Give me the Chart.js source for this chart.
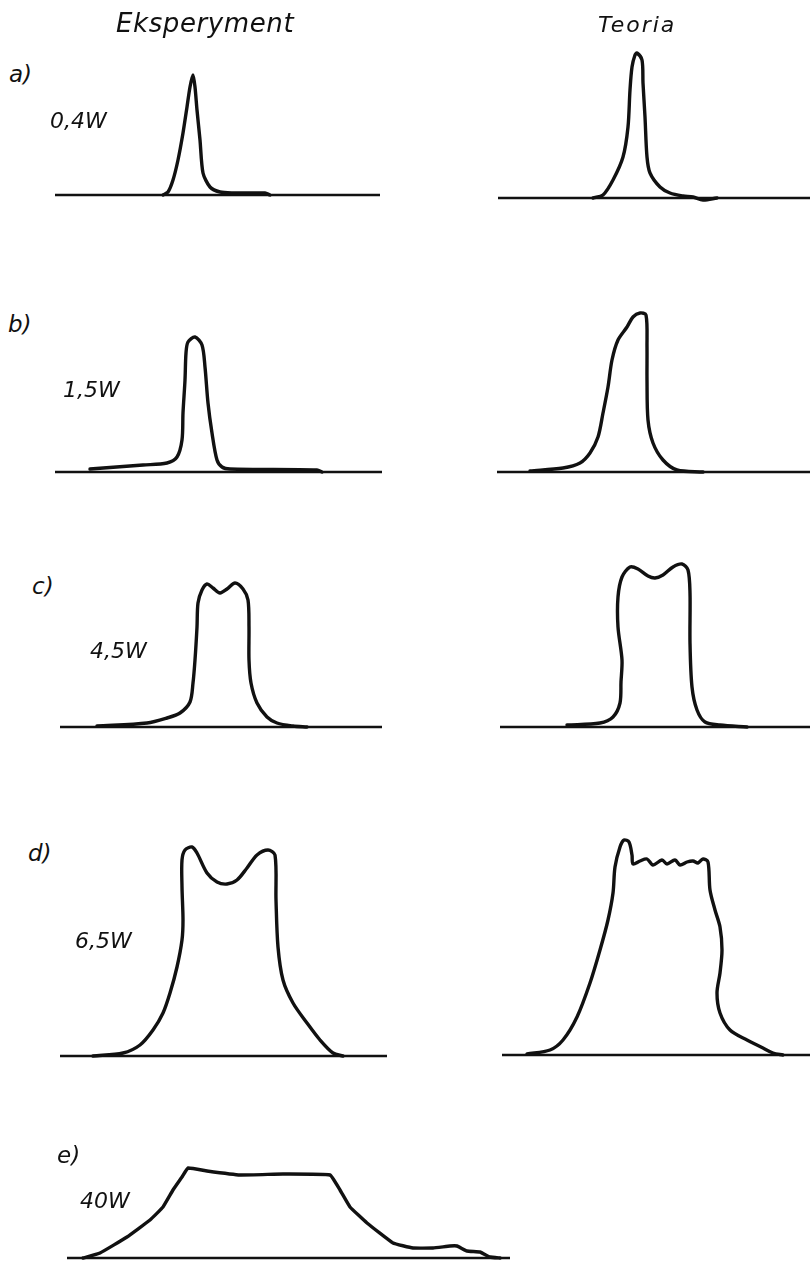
<!DOCTYPE html>
<html>
<head>
<meta charset="utf-8">
<script src="https://cdn.jsdelivr.net/npm/chart.js@4.4.1/dist/chart.umd.min.js"></script>
<style>
  html, body { margin: 0; padding: 0; background: #fff; }
  #fig { position: relative; width: 810px; height: 1262px; overflow: hidden; background: #fff; }
  #fig canvas { position: absolute; }
  .lbl { position: absolute; font-family: "DejaVu Sans", "Liberation Sans", sans-serif; font-style: italic;
         color: #111; white-space: nowrap; line-height: 1; }
</style>
</head>
<body>
<div id="fig"></div>
<script>
// Line profiles: x = detuning (arbitrary units along the axis), y = intensity (arbitrary units)

// a) 0,4 W
const aExpX = [108, 113, 118, 123, 128, 132, 135, 138, 140, 142, 145, 148, 155, 165, 178, 195, 210, 215];
const aExpY = [0, 3, 15, 35, 62, 88, 108, 120, 108, 85, 55, 22, 8, 3, 2, 2, 2, 0];
const aTheX = [95, 105, 115, 125, 130, 132, 134, 137, 139, 144, 145, 147, 149, 152, 162, 172, 185, 195, 205, 219];
const aTheY = [0, 3, 18, 41, 71, 108, 131, 143, 145, 138, 115, 81, 41, 25, 11, 5, 2, 1, -2, 0];

// b) 1,5 W
const bExpX = [35, 88, 112, 122, 127, 128, 130, 131, 133, 140, 147, 150, 153, 157, 162, 167, 175, 262, 267];
const bExpY = [3, 7, 9, 15, 32, 59, 92, 119, 130, 135, 127, 105, 69, 39, 12, 5, 3, 2, 0];
const bTheX = [33, 66, 83, 93, 101, 106, 111, 115, 121, 130, 136, 143, 149, 150, 150, 151, 156, 166, 180, 206];
const bTheY = [1, 4, 9, 19, 35, 59, 85, 112, 132, 145, 155, 159, 157, 125, 92, 52, 29, 12, 2, 0];

// c) 4,5 W
const cExpX = [37, 87, 107, 120, 130, 133, 135, 137, 138, 142, 147, 153, 160, 167, 175, 183, 188, 189, 189, 191, 197, 207, 217, 233, 247];
const cExpY = [1, 4, 9, 14, 25, 44, 67, 100, 124, 137, 143, 139, 134, 138, 144, 138, 127, 100, 67, 44, 24, 10, 4, 1, 0];
const cTheX = [67, 100, 113, 120, 121, 122, 118, 118, 122, 130, 138, 148, 155, 163, 173, 182, 188, 190, 190, 192, 197, 205, 220, 247];
const cTheY = [2, 4, 10, 24, 45, 67, 100, 130, 150, 160, 158, 151, 149, 152, 160, 163, 157, 134, 84, 40, 17, 5, 2, 0];

// d) 6,5 W
const dExpX = [33, 63, 80, 93, 103, 110, 117, 122, 123, 122, 122, 125, 132, 137, 147, 157, 167, 177, 187, 197, 208, 215, 216, 218, 223, 233, 247, 260, 273, 283];
const dExpY = [0, 3, 11, 26, 43, 63, 89, 116, 136, 169, 196, 206, 209, 203, 183, 174, 172, 176, 188, 201, 206, 201, 156, 109, 76, 53, 33, 16, 3, 0];
const dTheX = [25, 48, 61, 75, 88, 98, 106, 111, 113, 118, 122, 127, 130, 131, 138, 145, 151, 160, 165, 173, 178, 185, 191, 196, 201, 206, 208, 213, 218, 220, 218, 215, 218, 228, 245, 261, 271, 281];
const dTheY = [1, 5, 15, 38, 72, 105, 135, 162, 188, 208, 215, 213, 200, 191, 194, 196, 190, 195, 191, 195, 190, 193, 194, 192, 196, 193, 165, 145, 128, 105, 82, 62, 42, 25, 15, 7, 2, 0];

// e) 40 W
const eExpX = [16, 33, 60, 83, 96, 106, 115, 121, 140, 173, 216, 263, 273, 283, 300, 326, 346, 366, 383, 390, 400, 413, 423, 433];
const eExpY = [0, 5, 21, 38, 51, 68, 81, 90, 87, 83, 84, 83, 68, 51, 35, 15, 10, 10, 12, 12, 7, 6, 1, 0];

// Frequency-axis extents for each panel
const aExpAxis = [0, 325], aTheAxis = [0, 312];
const bExpAxis = [0, 327], bTheAxis = [0, 313];
const cExpAxis = [0, 322], cTheAxis = [0, 310];
const dExpAxis = [0, 327], dTheAxis = [0, 308];
const eExpAxis = [0, 443];

const zip = (xs, ys) => xs.map((x, i) => ({ x, y: ys[i] }));

// Panel layout on the page: left edge and axis line y
const panels = [
  { xs: aExpX, ys: aExpY, axis: aExpAxis, left: 55,  base: 195,  tension: 0.25 },
  { xs: aTheX, ys: aTheY, axis: aTheAxis, left: 498, base: 198,  tension: 0.3 },
  { xs: bExpX, ys: bExpY, axis: bExpAxis, left: 55,  base: 472,  tension: 0.3 },
  { xs: bTheX, ys: bTheY, axis: bTheAxis, left: 497, base: 472,  tension: 0.3 },
  { xs: cExpX, ys: cExpY, axis: cExpAxis, left: 60,  base: 727,  tension: 0.3 },
  { xs: cTheX, ys: cTheY, axis: cTheAxis, left: 500, base: 727,  tension: 0.3 },
  { xs: dExpX, ys: dExpY, axis: dExpAxis, left: 60,  base: 1056, tension: 0.3 },
  { xs: dTheX, ys: dTheY, axis: dTheAxis, left: 502, base: 1055, tension: 0.3 },
  { xs: eExpX, ys: eExpY, axis: eExpAxis, left: 67,  base: 1258, tension: 0.1 }
];

const fig = document.getElementById('fig');
const PAD = 6, HEAD = 230;

panels.forEach(p => {
  const w = p.axis[1] - p.axis[0];
  const cv = document.createElement('canvas');
  const cw = w + 2 * PAD, ch = HEAD + 2 * PAD;
  cv.width = cw; cv.height = ch;
  cv.style.width = cw + 'px'; cv.style.height = ch + 'px';
  cv.style.left = (p.left - PAD) + 'px';
  cv.style.top = (p.base - HEAD - PAD) + 'px';
  fig.appendChild(cv);

  new Chart(cv.getContext('2d'), {
    type: 'line',
    data: {
      datasets: [
        {
          data: [{ x: p.axis[0], y: 0 }, { x: p.axis[1], y: 0 }],
          borderColor: '#111', borderWidth: 2.6, pointRadius: 0, tension: 0
        },
        {
          data: zip(p.xs, p.ys),
          borderColor: '#111', borderWidth: 3.4, pointRadius: 0,
          tension: p.tension, borderCapStyle: 'round', borderJoinStyle: 'round'
        }
      ]
    },
    options: {
      responsive: false,
      animation: false,
      events: [],
      layout: { padding: 0 },
      plugins: { legend: { display: false }, tooltip: { enabled: false } },
      scales: {
        x: { type: 'linear', display: false, min: p.axis[0] - PAD, max: p.axis[1] + PAD },
        y: { type: 'linear', display: false, min: -PAD, max: HEAD + PAD }
      }
    }
  });
});

// Column headings, panel letters and pump powers
const labels = [
  { t: 'Eksperyment', x: 116, y: 13,   f: 26, ls: 0.6 },
  { t: 'Teoria',      x: 598, y: 17,   f: 22, ls: 2 },
  { t: 'a)',   x: 9,  y: 66,   f: 23, ls: 0 },
  { t: '0,4W', x: 50, y: 113,  f: 22, ls: 0 },
  { t: 'b)',   x: 8,  y: 316,  f: 23, ls: 0 },
  { t: '1,5W', x: 63, y: 382,  f: 22, ls: 0 },
  { t: 'c)',   x: 32, y: 578,  f: 23, ls: 0 },
  { t: '4,5W', x: 90, y: 643,  f: 22, ls: 0 },
  { t: 'd)',   x: 28, y: 845,  f: 23, ls: 0 },
  { t: '6,5W', x: 75, y: 933,  f: 22, ls: 0 },
  { t: 'e)',   x: 57, y: 1147, f: 23, ls: 0 },
  { t: '40W',  x: 80, y: 1193, f: 22, ls: 0 }
];
labels.forEach(l => {
  const d = document.createElement('div');
  d.className = 'lbl';
  d.textContent = l.t;
  d.style.left = l.x + 'px';
  d.style.top = (l.y - 0.117 * l.f) + 'px';
  d.style.fontSize = l.f + 'px';
  d.style.letterSpacing = l.ls + 'px';
  fig.appendChild(d);
});
</script>
</body>
</html>
